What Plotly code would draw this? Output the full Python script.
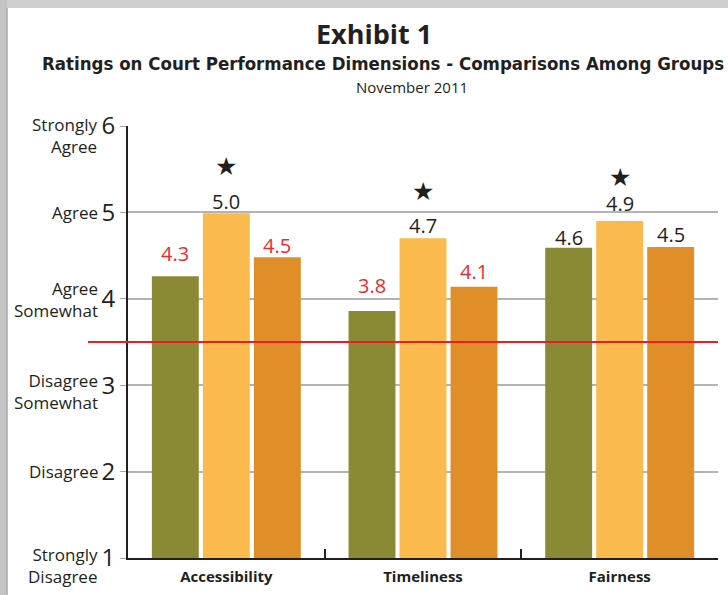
import plotly.graph_objects as go

categories = ["Accessibility", "Timeliness", "Fairness"]
group_a = [4.26, 3.86, 4.59]
group_b = [4.99, 4.70, 4.90]
group_c = [4.48, 4.14, 4.60]
labels_a = ["4.3", "3.8", "4.6"]
labels_b = ["5.0", "4.7", "4.9"]
labels_c = ["4.5", "4.1", "4.5"]
label_red_a = [True, True, False]
label_red_c = [True, True, False]
y_ticks = [1, 2, 3, 4, 5, 6]
y_words = ["Strongly<br>Disagree", "Disagree", "Disagree<br>Somewhat",
           "Agree<br>Somewhat", "Agree", "Strongly<br>Agree"]
reference_line = 3.5

GREEN = "#8A8A35"
YELLOW = "#FBBA4E"
ORANGE = "#E08F28"
RED = "#EE2A2F"
DARK = "#231F20"
FONT = "Open Sans"

BARGAP = 0.222
fig = go.Figure()
for vals, col in [(group_a, GREEN), (group_b, YELLOW), (group_c, ORANGE)]:
    fig.add_trace(go.Bar(x=categories, y=vals, marker=dict(color=col, line=dict(width=0)),
                         hoverinfo="skip", showlegend=False))

# pixel nudges of value labels (style only), [group][category]
label_nudge = [[7, 9.5, -5.5], [-3.5, -2.5, 2.5], [-4, 0, -3.5]]
star_nudge = [0, 0, -3]

slot = (1 - BARGAP) / 3
ann = []
for i, cat in enumerate(categories):
    for k, (vals, labs, reds) in enumerate([(group_a, labels_a, label_red_a),
                                            (group_b, labels_b, [False] * 3),
                                            (group_c, labels_c, label_red_c)]):
        xo = i + (k - 1) * slot
        ann.append(dict(x=xo, y=vals[i], xref="x", yref="y", text=labs[i],
                        showarrow=False, yanchor="bottom", yshift=label_nudge[k][i],
                        font=dict(family=FONT, size=20, color=RED if reds[i] else DARK)))
        if k == 1:
            ann.append(dict(x=xo, y=vals[i], xref="x", yref="y", text="★",
                            showarrow=False, yanchor="bottom", yshift=30 + star_nudge[i],
                            font=dict(family="DejaVu Sans", size=25, color=DARK)))

# y word labels
shifts = [-7, 0, -6, -1, 0, -9]
for t, w, s in zip(y_ticks, y_words, shifts):
    ann.append(dict(x=-0.047, y=t, xref="paper", yref="y", text=w, showarrow=False,
                    xanchor="right", yanchor="middle", align="right", yshift=s,
                    font=dict(family=FONT, size=17, color=DARK)))

# titles
ann.append(dict(x=(374 - 128) / 590, y=(558 - 34) / 432, xref="paper", yref="paper",
                text="<b>Exhibit 1</b>", showarrow=False, xanchor="center", yanchor="middle",
                font=dict(family=FONT, size=27, color=DARK)))
ann.append(dict(x=(383 - 128) / 590, y=(558 - 64) / 432, xref="paper", yref="paper",
                text="<b>Ratings on Court Performance Dimensions - Comparisons Among Groups</b>",
                showarrow=False, xanchor="center", yanchor="middle",
                font=dict(family="Liberation Sans Narrow, DejaVu Sans Condensed, Roboto Condensed, Roboto",
                          size=18.5, color=DARK)))
ann.append(dict(x=(412 - 128) / 590, y=(558 - 87) / 432, xref="paper", yref="paper",
                text="November 2011", showarrow=False, xanchor="center", yanchor="middle",
                font=dict(family=FONT, size=15, color=DARK)))

shapes = [
    # grey page edges
    dict(type="rect", xref="paper", yref="paper", x0=-128 / 590, x1=(728 - 128) / 590,
         y0=(558 - 8) / 432, y1=(558 + 2) / 432, fillcolor="#CFCFCF", line=dict(width=0), layer="above"),
    dict(type="rect", xref="paper", yref="paper", x0=-130 / 590, x1=(7 - 128) / 590,
         y0=(558 - 597) / 432, y1=(558 + 2) / 432, fillcolor="#C4C4C4", line=dict(width=0), layer="above"),
    dict(type="line", xref="paper", yref="paper", x0=(7 - 128) / 590, x1=(7 - 128) / 590,
         y0=(558 - 597) / 432, y1=(558 - 8) / 432, line=dict(color="#A8A8A8", width=1.5)),
    # reference line
    dict(type="line", xref="paper", yref="y", x0=(88 - 128) / 590, x1=1.0,
         y0=reference_line, y1=reference_line, line=dict(color="#ED1C24", width=2), layer="above"),
]

fig.update_layout(
    width=728, height=595,
    margin=dict(l=128, r=10, t=126, b=37),
    paper_bgcolor="white", plot_bgcolor="white",
    barmode="group", bargap=BARGAP, bargroupgap=0.08,
    annotations=ann, shapes=shapes,
    xaxis=dict(type="category", showline=True, linecolor=DARK, linewidth=2,
               ticks="inside", ticklen=9, tickcolor=DARK, tickwidth=1.5,
               tickson="boundaries", showgrid=False, zeroline=False,
               tickfont=dict(family=FONT, size=15, color=DARK, weight="bold"),
               ticklabelstandoff=4),
    yaxis=dict(range=[1, 6], tickvals=y_ticks, ticktext=[str(t) for t in y_ticks],
               showline=True, linecolor=DARK, linewidth=2, ticks="outside", ticklen=6,
               tickcolor="#A6A8AB", showgrid=True, gridcolor="#B3B3B3", gridwidth=1.5,
               zeroline=False, tickfont=dict(family=FONT, size=24, color=DARK)),
)

fig.write_html("out.html", config={"displayModeBar": False},
               post_script="document.body.style.margin='0';document.body.style.overflow='hidden';")
